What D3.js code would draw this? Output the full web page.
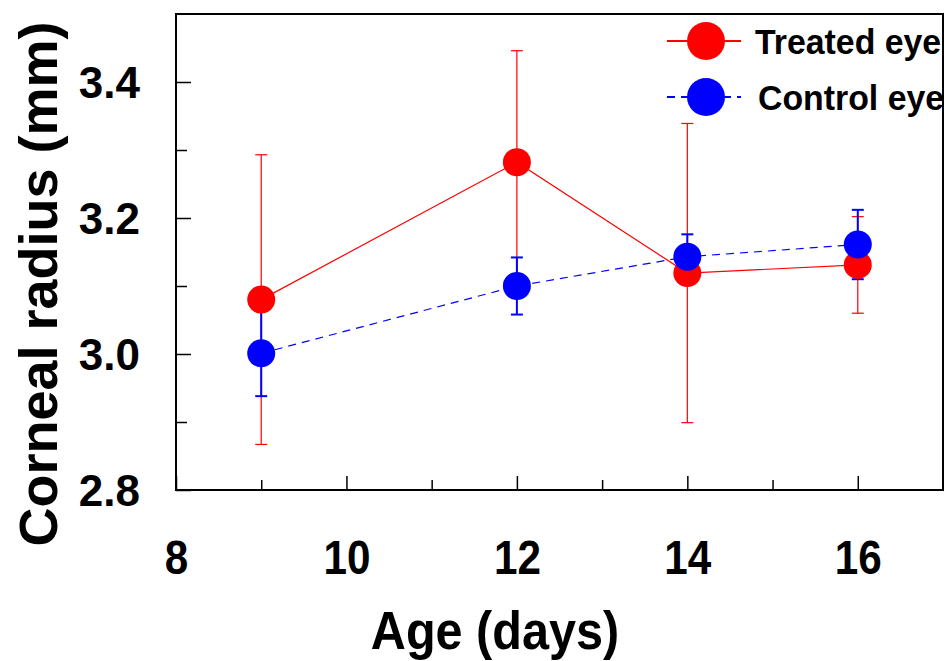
<!DOCTYPE html>
<html>
<head>
<meta charset="utf-8">
<script src="https://cdn.jsdelivr.net/npm/d3@7"></script>
<style>
  html, body { margin: 0; padding: 0; background: #fff; }
  svg { display: block; }
  text { font-family: "Liberation Sans", Arial, sans-serif; font-weight: bold; fill: #000; }
</style>
</head>
<body>
<svg id="chart" width="947" height="661"></svg>
<script>
// ---- data ----
const ages = [9, 12, 14, 16];
const treatedMean = [3.08, 3.282, 3.119, 3.131];
const treatedErr  = [0.213, 0.164, 0.22, 0.071];
const controlMean = [3.001, 3.10, 3.143, 3.161];
const controlErr  = [0.063, 0.042, 0.033, 0.051];
const seriesNames = ["Treated eye", "Control eye"];
const xMajorTicks = [8, 10, 12, 14, 16];
const xMinorTicks = [9, 11, 13, 15];
const yMajorTicks = [2.8, 3.0, 3.2, 3.4];
const yMinorTicks = [2.9, 3.1, 3.3];
const xTitle = "Age (days)";
const yTitle = "Corneal radius (mm)";

// ---- layout ----
const svg = d3.select("#chart");
const L = 176, R = 943, T = 14, B = 490;
const x = d3.scaleLinear().domain([8, 17]).range([L, R]);
const y = d3.scaleLinear().domain([2.8, 3.5]).range([B, T]);

const treated = ages.map((a, i) => ({x: a, y: treatedMean[i], e: treatedErr[i]}));
const control = ages.map((a, i) => ({x: a, y: controlMean[i], e: controlErr[i]}));

// frame
svg.append("rect").attr("x", L).attr("y", T).attr("width", R - L).attr("height", B - T)
  .attr("fill", "none").attr("stroke", "#000").attr("stroke-width", 2);

// x axis major
const gxMaj = svg.append("g").attr("transform", `translate(0,${B})`)
  .call(d3.axisBottom(x).tickValues(xMajorTicks).tickSize(-14).tickPadding(50).tickFormat(d3.format("d")));
gxMaj.attr("font-family", null);
gxMaj.select(".domain").remove();
gxMaj.selectAll("line").attr("stroke", "#000").attr("stroke-width", 1.5);
gxMaj.selectAll("text").attr("font-size", 48).attr("fill", "#000")
  .attr("dy", "0.71em").attr("transform", "scale(0.88,1)");
// x axis minor
const gxMin = svg.append("g").attr("transform", `translate(0,${B})`)
  .call(d3.axisBottom(x).tickValues(xMinorTicks).tickSize(-10).tickFormat(""));
gxMin.select(".domain").remove();
gxMin.selectAll("line").attr("stroke", "#000").attr("stroke-width", 1.5);

// y axis major
const gyMaj = svg.append("g").attr("transform", `translate(${L},0)`)
  .call(d3.axisLeft(y).tickValues(yMajorTicks).tickSize(-15).tickPadding(36).tickFormat(d3.format(".1f")));
gyMaj.attr("font-family", null);
gyMaj.select(".domain").remove();
gyMaj.selectAll("line").attr("stroke", "#000").attr("stroke-width", 1.5);
gyMaj.selectAll("text").attr("font-size", 44).attr("fill", "#000").attr("dy", "0.36em");
// y axis minor
const gyMin = svg.append("g").attr("transform", `translate(${L},0)`)
  .call(d3.axisLeft(y).tickValues(yMinorTicks).tickSize(-11).tickFormat(""));
gyMin.select(".domain").remove();
gyMin.selectAll("line").attr("stroke", "#000").attr("stroke-width", 1.5);

// titles
svg.append("text").attr("x", 0).attr("y", 0)
  .attr("transform", `translate(495,649) scale(0.9,1)`)
  .attr("text-anchor", "middle").attr("font-size", 54).text(xTitle);
svg.append("text").attr("transform", `translate(57,284) rotate(-90)`)
  .attr("text-anchor", "middle").attr("font-size", 54).text(yTitle);

const RED = "#ff0000", BLUE = "#0000ff";
function errorBars(data, color, width) {
  const g = svg.append("g").attr("stroke", color).attr("stroke-width", width).attr("fill", "none");
  data.forEach(d => {
    g.append("line").attr("x1", x(d.x)).attr("x2", x(d.x)).attr("y1", y(d.y - d.e)).attr("y2", y(d.y + d.e));
    [d.y - d.e, d.y + d.e].forEach(v => {
      g.append("line").attr("x1", x(d.x) - 6).attr("x2", x(d.x) + 6).attr("y1", y(v)).attr("y2", y(v));
    });
  });
}
errorBars(treated, RED, 1.2);
errorBars(control, BLUE, 2);

const line = d3.line().x(d => x(d.x)).y(d => y(d.y));
svg.append("path").datum(treated).attr("d", line).attr("fill", "none").attr("stroke", RED).attr("stroke-width", 1.2);
svg.selectAll(".tdot").data(treated).enter().append("circle")
  .attr("cx", d => x(d.x)).attr("cy", d => y(d.y)).attr("r", 14).attr("fill", RED);
svg.append("path").datum(control).attr("d", line).attr("fill", "none").attr("stroke", BLUE)
  .attr("stroke-width", 1.2).attr("stroke-dasharray", "8,6");
svg.selectAll(".cdot").data(control).enter().append("circle")
  .attr("cx", d => x(d.x)).attr("cy", d => y(d.y)).attr("r", 14).attr("fill", BLUE);

// legend
const legend = [
  {name: seriesNames[0], color: RED, dash: null, ly: 41, tx: 755, ty: 54},
  {name: seriesNames[1], color: BLUE, dash: "8,6", ly: 97, tx: 758, ty: 110}
];
legend.forEach(l => {
  svg.append("line").attr("x1", 667).attr("x2", 741).attr("y1", l.ly).attr("y2", l.ly)
    .attr("stroke", l.color).attr("stroke-width", 2).attr("stroke-dasharray", l.dash);
  svg.append("circle").attr("cx", 706).attr("cy", l.ly).attr("r", 19).attr("fill", l.color);
  svg.append("text").attr("transform", `translate(${l.tx},${l.ty}) scale(0.94,1)`)
    .attr("font-size", 36).text(l.name);
});
</script>
</body>
</html>
